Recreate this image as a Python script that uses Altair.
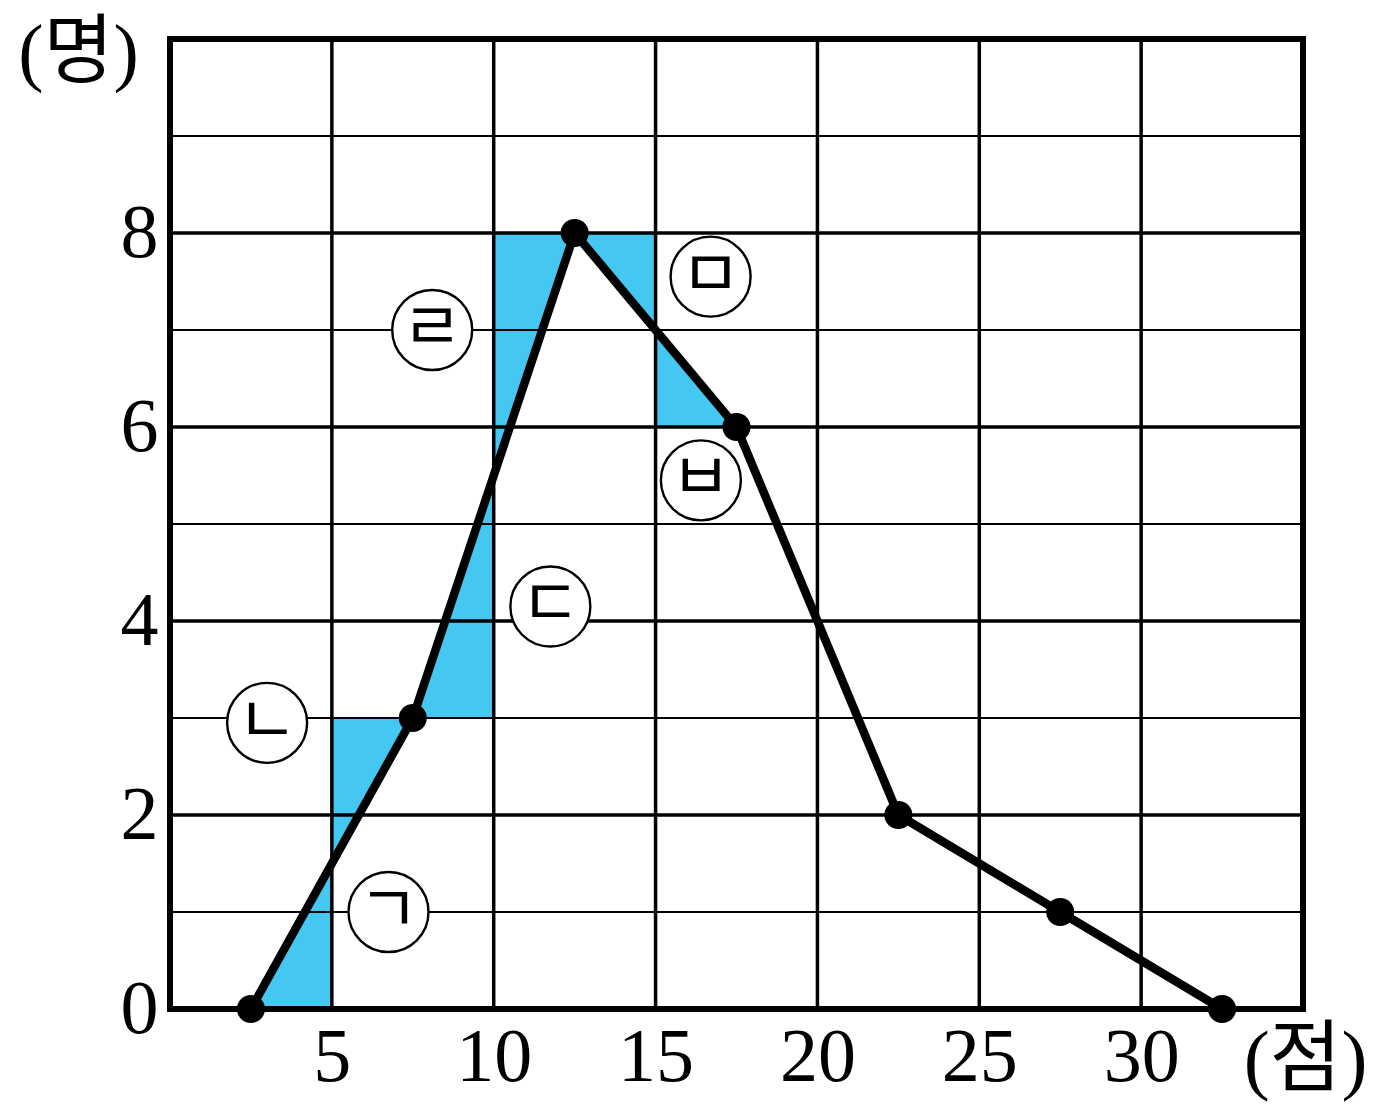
import altair as alt
import pandas as pd

# class data (frequency polygon)
edges_left = [0, 5, 10, 15, 20, 25, 30]
freq = [0, 3, 8, 6, 2, 1, 0]
class_width = 5
shaded_pairs = [0, 1, 2]  # adjacent class pairs (i, i+1) whose triangles are shaded

label_text = ["ㄱ", "ㄴ", "ㄷ", "ㄹ", "ㅁ", "ㅂ"]
label_x = [6.75, 3.0, 11.75, 8.1, 16.7, 16.4]
label_y = [1.0, 2.95, 4.15, 7.0, 7.55, 5.45]

x_ticks = [5, 10, 15, 20, 25, 30]
y_ticks = [0, 2, 4, 6, 8]
v_grid = [5, 10, 15, 20, 25, 30]
h_minor = [1, 3, 5, 7, 9]
h_major = [2, 4, 6, 8]
x_domain = [0, 35]
y_domain = [0, 10]

mids = [e + class_width / 2 for e in edges_left]
poly = pd.DataFrame({"x": mids, "y": freq})

rows = []
for i in shaded_pairs:
    e = edges_left[i + 1]
    v = (freq[i] + freq[i + 1]) / 2
    rows += [
        {"g": f"{i}a", "x": mids[i], "y": freq[i], "y2": freq[i]},
        {"g": f"{i}a", "x": e, "y": v, "y2": freq[i]},
        {"g": f"{i}b", "x": e, "y": v, "y2": freq[i + 1]},
        {"g": f"{i}b", "x": mids[i + 1], "y": freq[i + 1], "y2": freq[i + 1]},
    ]
tri = pd.DataFrame(rows)

FONT = "Liberation Serif, Noto Sans CJK KR"
xs = alt.Scale(domain=x_domain, nice=False, zero=False)
ys = alt.Scale(domain=y_domain, nice=False, zero=False)

xaxis = alt.Axis(values=x_ticks, format="d", title="(점)", grid=False, ticks=False, domain=False,
                 labelFont=FONT, labelFontSize=76, labelColor="black", labelPadding=11,
                 labelBaseline="top",
                 titleFont=FONT, titleFontSize=78, titleFontWeight="normal", titleColor="black",
                 titleX=1135, titleY=52, titleAlign="center", titleBaseline="middle", titleAngle=0)
yaxis = alt.Axis(values=y_ticks, format="d", title="(명)", grid=False, ticks=False, domain=False,
                 labelFont=FONT, labelFontSize=76, labelColor="black", labelPadding=12,
                 labelBaseline="middle",
                 titleFont=FONT, titleFontSize=76, titleFontWeight="normal", titleColor="black",
                 titleX=-92, titleY=14, titleAlign="center", titleBaseline="middle", titleAngle=0)

base_axes = alt.Chart(poly).mark_point(opacity=0).encode(
    x=alt.X("x:Q", scale=xs, axis=xaxis),
    y=alt.Y("y:Q", scale=ys, axis=yaxis),
)

area = alt.Chart(tri).mark_area(color="#44C7F1", opacity=1).encode(
    x=alt.X("x:Q", scale=xs), y=alt.Y("y:Q", scale=ys), y2="y2:Q", detail="g:N"
)

vg = alt.Chart(pd.DataFrame({"v": v_grid})).mark_rule(color="black", strokeWidth=3.5).encode(
    x=alt.X("v:Q", scale=xs)
)
hmin = alt.Chart(pd.DataFrame({"h": h_minor})).mark_rule(color="black", strokeWidth=2).encode(
    y=alt.Y("h:Q", scale=ys)
)
hmaj = alt.Chart(pd.DataFrame({"h": h_major})).mark_rule(color="black", strokeWidth=3.5).encode(
    y=alt.Y("h:Q", scale=ys)
)
border = alt.Chart(pd.DataFrame({"x0": [x_domain[0]], "x1": [x_domain[1]],
                                 "y0": [y_domain[0]], "y1": [y_domain[1]]})).mark_rect(
    fill=None, fillOpacity=0, stroke="black", strokeWidth=6, strokeJoin="miter"
).encode(
    x=alt.X("x0:Q", scale=xs), x2="x1:Q", y=alt.Y("y0:Q", scale=ys), y2="y1:Q"
)

line = alt.Chart(poly).mark_line(color="black", strokeWidth=8.5).encode(
    x=alt.X("x:Q", scale=xs), y=alt.Y("y:Q", scale=ys)
)
pts = alt.Chart(poly).mark_circle(color="black", size=784, opacity=1).encode(
    x=alt.X("x:Q", scale=xs), y=alt.Y("y:Q", scale=ys)
)

lab = pd.DataFrame({"t": label_text, "x": label_x, "y": label_y})
circ = alt.Chart(lab).mark_point(shape="circle", size=6400, filled=False, fill="white",
                                 fillOpacity=1, stroke="black", strokeWidth=2.4, opacity=1).encode(
    x=alt.X("x:Q", scale=xs), y=alt.Y("y:Q", scale=ys)
)
txt = alt.Chart(lab).mark_text(font="Noto Sans CJK KR", fontSize=66, color="black",
                               baseline="middle", align="center").encode(
    x=alt.X("x:Q", scale=xs), y=alt.Y("y:Q", scale=ys), text="t:N"
)

chart = alt.layer(base_axes, area, vg, hmin, hmaj, border, line, pts, circ, txt).properties(
    width=1133, height=970,
    autosize=alt.AutoSizeParams(type="none"),
    padding={"left": 162, "top": 31, "right": 76, "bottom": 95},
).configure_view(stroke=None).configure(background="white")

chart.save("out.html", embed_options={"renderer": "svg", "actions": False})
